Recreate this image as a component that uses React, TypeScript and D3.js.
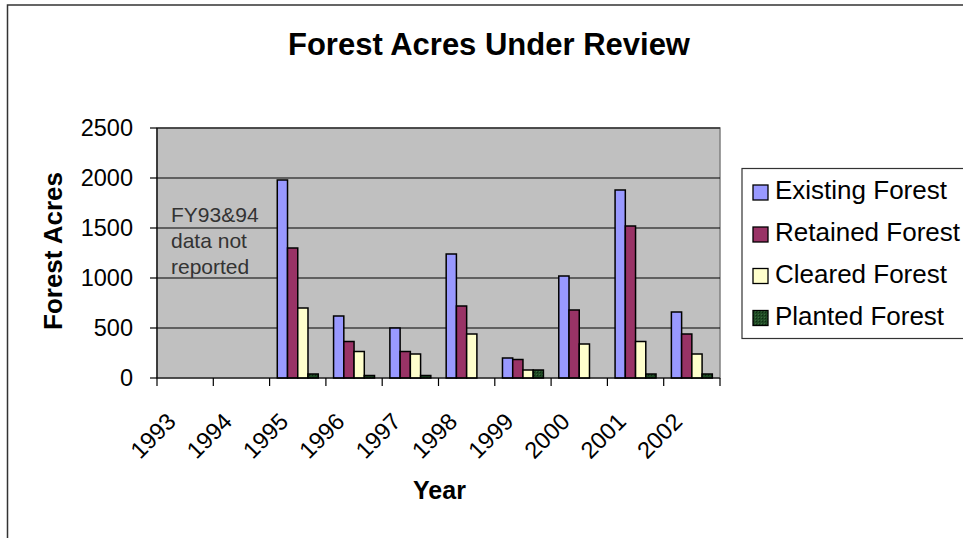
import React from "react";
import * as d3 from "d3";

const years = ["1993", "1994", "1995", "1996", "1997", "1998", "1999", "2000", "2001", "2002"];
const seriesNames = ["Existing Forest", "Retained Forest", "Cleared Forest", "Planted Forest"];
const existing = [null, null, 1980, 620, 500, 1240, 200, 1020, 1880, 660];
const retained = [null, null, 1300, 365, 265, 720, 185, 680, 1520, 440];
const cleared = [null, null, 700, 265, 240, 440, 80, 340, 365, 240];
const planted = [null, null, 40, 25, 25, null, 80, null, 40, 40];
const yTicks = [0, 500, 1000, 1500, 2000, 2500];
const colors = ["#9999FF", "#993366", "#FFFFCC", "#1F4A24"];

const FONT = "'Liberation Sans', Arial, sans-serif";

export default function App() {
  const W = 963, H = 538;
  const left = 157, right = 720, top = 128, bottom = 378;
  const x = d3.scaleBand<string>().domain(years).range([left, right]).paddingInner(0).paddingOuter(0);
  const y = d3.scaleLinear().domain([0, 2500]).range([bottom, top]);
  const bw = x.bandwidth();
  const inner = d3
    .scaleBand<number>()
    .domain([0, 1, 2, 3])
    .range([bw * (0.75 / 5.5), bw * (4.75 / 5.5)])
    .padding(0);
  const data = [existing, retained, cleared, planted];

  const legendY = [192.5, 234.5, 276, 318];

  return (
    <svg width={W} height={H} style={{ position: "absolute", left: 0, top: 0, display: "block" }} fontFamily={FONT}>
      <defs>
        <pattern id="plantedPat" width="3" height="3" patternUnits="userSpaceOnUse">
          <rect width="3" height="3" fill="#1F4A24" />
          <rect width="1" height="1" fill="#0E2A12" />
          <rect x="2" y="2" width="1" height="1" fill="#3A6A3E" />
        </pattern>
      </defs>
      <rect x={0} y={0} width={W} height={H} fill="#fff" />
      <rect x={7.5} y={5} width={1000} height={600} fill="none" stroke="#333" strokeWidth={1.5} />
      <text x={489} y={55} textAnchor="middle" fontSize={31} fontWeight="bold" fill="#000">
        Forest Acres Under Review
      </text>

      {/* plot area */}
      <rect x={left} y={top} width={right - left} height={bottom - top} fill="#C0C0C0" stroke="#808080" strokeWidth={1.5} />
      {yTicks.filter((t) => t > 0).map((t) => (
        <line key={t} x1={left} x2={right} y1={y(t)} y2={y(t)} stroke="#000" strokeWidth={1.2} />
      ))}

      {/* annotation */}
      <g fontSize={21} fill="#333">
        <text x={171} y={221.5}>FY93&amp;94</text>
        <text x={171} y={247.5}>data not</text>
        <text x={171} y={273.5}>reported</text>
      </g>

      {/* bars */}
      {data.map((s, si) =>
        s.map((v, i) =>
          v == null ? null : (
            <rect
              key={si + "-" + i}
              x={(x(years[i]) as number) + (inner(si) as number)}
              y={y(v)}
              width={inner.bandwidth()}
              height={bottom - y(v)}
              fill={si === 3 ? "url(#plantedPat)" : colors[si]}
              stroke="#000"
              strokeWidth={1.5}
            />
          )
        )
      )}

      {/* axes */}
      <line x1={left} x2={left} y1={top} y2={bottom} stroke="#000" strokeWidth={1.2} />
      <line x1={left} x2={right} y1={bottom} y2={bottom} stroke="#000" strokeWidth={1.2} />
      {yTicks.map((t) => (
        <g key={t}>
          <line x1={left - 7} x2={left} y1={y(t)} y2={y(t)} stroke="#000" strokeWidth={1.2} />
          <text x={133} y={y(t) + 8.3} textAnchor="end" fontSize={23.5} fill="#000">
            {t}
          </text>
        </g>
      ))}
      {years.map((yr) => (
        <line key={"t" + yr} x1={x(yr) as number} x2={x(yr) as number} y1={bottom} y2={bottom + 8} stroke="#000" strokeWidth={1.2} />
      ))}
      <line x1={right} x2={right} y1={bottom} y2={bottom + 8} stroke="#000" strokeWidth={1.2} />
      {years.map((yr) => {
        const cx = (x(yr) as number) + bw / 2 - 8;
        const cy = 423;
        return (
          <text key={"l" + yr} x={cx} y={cy} textAnchor="end" fontSize={23.5} fill="#000" transform={`rotate(-45 ${cx} ${cy})`}>
            {yr}
          </text>
        );
      })}

      <text x={439.5} y={498.5} textAnchor="middle" fontSize={25} fontWeight="bold" fill="#000">
        Year
      </text>
      <text x={0} y={0} textAnchor="middle" fontSize={26} fontWeight="bold" fill="#000" transform={`translate(61.5 251) rotate(-90)`}>
        Forest Acres
      </text>

      {/* legend */}
      <rect x={742} y={168.5} width={240} height={170} fill="#fff" stroke="#333" strokeWidth={1.2} />
      {seriesNames.map((n, i) => (
        <g key={n}>
          <rect x={753} y={legendY[i] - 7.5} width={15} height={15} fill={i === 3 ? "url(#plantedPat)" : colors[i]} stroke="#000" strokeWidth={1.3} />
          <text x={775} y={legendY[i] + 6.5} fontSize={26} fill="#000">
            {n}
          </text>
        </g>
      ))}
    </svg>
  );
}
